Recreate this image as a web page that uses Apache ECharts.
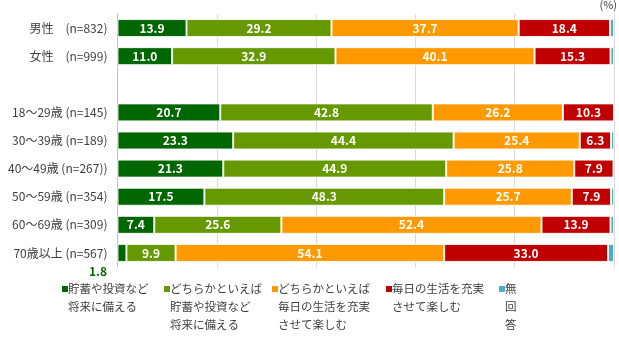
<!DOCTYPE html>
<html>
<head>
<meta charset="utf-8">
<script src="https://cdn.jsdelivr.net/npm/echarts@6/dist/echarts.min.js"></script>
<style>
  html, body { margin: 0; padding: 0; background: #fff; }
  #chart { width: 619px; height: 337px; }
</style>
</head>
<body>
<div id="chart"></div>
<script>
// Row labels (the empty entry is a spacer row between gender and age groups)
var categories = [
  '男性　(n=832)',
  '女性　(n=999)',
  '',
  '18～29歳 (n=145)',
  '30～39歳 (n=189)',
  '40～49歳 (n=267))',
  '50～59歳 (n=354)',
  '60～69歳 (n=309)',
  '70歳以上 (n=567)'
];

var seriesNames = [
  '貯蓄や投資など\n将来に備える',
  'どちらかといえば\n貯蓄や投資など\n将来に備える',
  'どちらかといえば\n毎日の生活を充実\nさせて楽しむ',
  '毎日の生活を充実\nさせて楽しむ',
  '無\n回\n答'
];

var saving      = [13.9, 11.0, null, 20.7, 23.3, 21.3, 17.5, 7.4, 1.8];
var leanSaving  = [29.2, 32.9, null, 42.8, 44.4, 44.9, 48.3, 25.6, 9.9];
var leanEnjoy   = [37.7, 40.1, null, 26.2, 25.4, 25.8, 25.7, 52.4, 54.1];
var enjoy       = [18.4, 15.3, null, 10.3, 6.3, 7.9, 7.9, 13.9, 33.0];
var noAnswer    = [0.8, 0.7, null, 0, 0.6, 0, 0.6, 0.7, 1.2];

var xTicks = [0, 20, 40, 60, 80, 100];

var colors = ['#006600', '#669900', '#FF9900', '#C00000', '#4BACC6'];
var values = [saving, leanSaving, leanEnjoy, enjoy, noAnswer];

var font = '"Noto Sans CJK JP", "Noto Sans", sans-serif';

function buildData(arr, idx) {
  return arr.map(function (v) {
    if (v === null) return '-';
    if (idx === 4) return { value: v, label: { show: false } };
    if (v < 3) {
      // too narrow for an inside label: put it under the bar
      return {
        value: v,
        label: {
          show: true,
          position: 'bottom',
          distance: 3,
          offset: [-24, 0],
          color: colors[idx],
          fontWeight: 'bold'
        }
      };
    }
    return v;
  });
}

var series = values.map(function (arr, i) {
  return {
    name: seriesNames[i],
    type: 'bar',
    stack: 'total',
    barWidth: 18,
    data: buildData(arr, i),
    itemStyle: {
      color: colors[i],
      borderColor: 'rgba(255,255,255,0.85)',
      borderWidth: 1
    },
    label: {
      show: i !== 4,
      position: 'inside',
      color: '#fff',
      fontFamily: font,
      fontSize: 12,
      fontWeight: 'bold',
      formatter: function (p) { return p.value.toFixed(1); }
    },
    emphasis: { disabled: true },
    animation: false
  };
});

// legend drawn as marker + multi-line caption, each in its own column
var legendLeft = [62, 164, 272, 386, 499];
var legendTop = 280;
var legendGraphics = [];
seriesNames.forEach(function (n, i) {
  legendGraphics.push({
    type: 'rect',
    left: legendLeft[i],
    top: legendTop + 6,
    shape: { width: 6, height: 6 },
    style: { fill: colors[i] },
    silent: true
  });
  legendGraphics.push({
    type: 'text',
    left: legendLeft[i] + 6,
    top: legendTop,
    style: {
      text: n,
      fontFamily: font,
      fontSize: 11.5,
      lineHeight: 18,
      fill: '#404040'
    },
    silent: true
  });
});

var chart = echarts.init(document.getElementById('chart'), null, { renderer: 'canvas' });
chart.setOption({
  animation: false,
  title: {
    text: '(%)',
    right: 2,
    top: -1,
    padding: 0,
    textStyle: { fontFamily: font, fontSize: 11, fontWeight: 'normal', color: '#404040' }
  },
  grid: { left: 117.5, right: 5, top: 14, bottom: 70, containLabel: false },
  xAxis: {
    type: 'value',
    min: xTicks[0],
    max: xTicks[xTicks.length - 1],
    interval: 20,
    axisLabel: { show: false },
    axisLine: { show: false },
    axisTick: { show: false },
    splitLine: { show: true, lineStyle: { color: '#D9D9D9', width: 1 } }
  },
  yAxis: {
    type: 'category',
    data: categories,
    inverse: true,
    axisLine: { show: true, lineStyle: { color: '#BFBFBF' } },
    axisTick: { show: false },
    axisLabel: {
      margin: 10,
      fontFamily: font,
      fontSize: 12,
      color: '#404040'
    }
  },
  graphic: legendGraphics,
  series: series
});
</script>
</body>
</html>
